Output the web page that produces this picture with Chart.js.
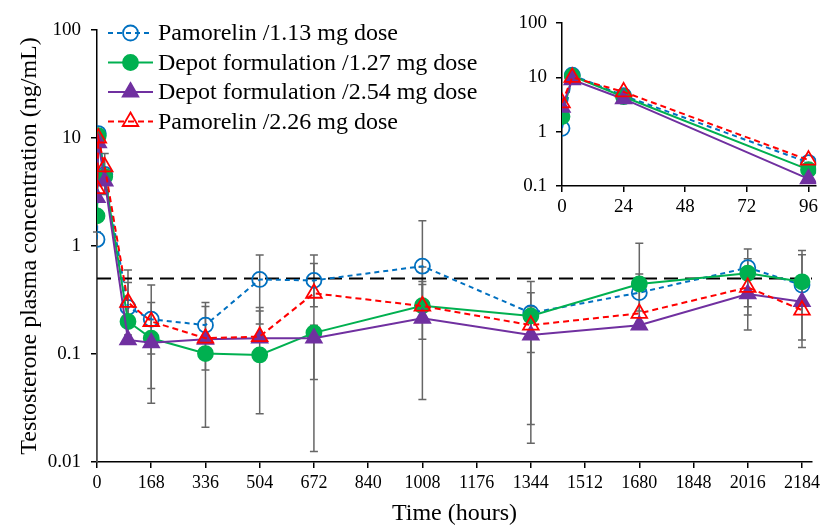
<!DOCTYPE html>
<html>
<head>
<meta charset="utf-8">
<script src="https://cdn.jsdelivr.net/npm/chart.js@4.4.1/dist/chart.umd.min.js"></script>
<style>
  body { margin: 0; background: #fff; }
  #wrap { position: relative; width: 827px; height: 526px; }
  #main { position: absolute; left: 0; top: 0; }
  #inset { position: absolute; left: 505px; top: 0; }
</style>
</head>
<body>
<div id="wrap">
  <canvas id="main" width="827" height="526"></canvas>
  <canvas id="inset" width="322" height="215"></canvas>
</div>
<script>
// sampling times (hours)
const hours = [0, 4, 24, 96, 168, 336, 504, 672, 1008, 1344, 1680, 2016, 2184];

// mean testosterone (ng/mL)
const pam113 = [1.15, 11, 4.6, 0.27, 0.21, 0.185, 0.49, 0.48, 0.65, 0.24, 0.37, 0.63, 0.435];
const dep127 = [1.9, 10.5, 4.4, 0.2, 0.14, 0.101, 0.098, 0.157, 0.28, 0.225, 0.445, 0.56, 0.466];
const dep254 = [2.8, 9, 4, 0.135, 0.127, 0.137, 0.14, 0.14, 0.214, 0.15, 0.185, 0.36, 0.305];
const pam226 = [3.4, 10, 5.4, 0.3, 0.2, 0.14, 0.145, 0.365, 0.278, 0.185, 0.238, 0.414, 0.255];

// error bar ends (null = not visible)
const pam113Lo = [0.005, null, 3.0, 0.15, 0.1, 0.071, 0.19, 0.274, 0.137, 0.103, 0.25, 0.23, 0.115];
const pam113Hi = [1.35, null, 7.2, 0.6, 0.435, 0.30, 0.826, 0.826, 1.71, 0.47, 0.55, 0.94, 0.83];
const dep127Lo = [null, null, null, null, 0.035, 0.021, 0.028, 0.0125, 0.038, 0.0149, 0.2, 0.167, 0.135];
const dep127Hi = [null, null, null, null, null, 0.275, 0.25, null, 0.47, 0.37, 1.06, 0.76, 0.91];
const dep254Lo = [null, null, null, null, null, null, null, 0.058, null, null, null, null, null];
const dep254Hi = [null, null, null, null, null, null, null, null, 0.64, null, null, null, null];
const pam226Lo = [null, null, null, 0.2, 0.048, null, null, 0.185, null, 0.0223, null, 0.274, null];
const pam226Hi = [null, null, null, 0.46, 0.30, null, 0.27, 0.69, 0.44, 0.274, null, null, null];

const loqLevel = 0.5;

const xTicks = [0, 168, 336, 504, 672, 840, 1008, 1176, 1344, 1512, 1680, 1848, 2016, 2184];
const yTicks = [0.01, 0.1, 1, 10, 100];
const insetXTicks = [0, 24, 48, 72, 96];
const insetYTicks = [0.1, 1, 10, 100];
const insetCount = 4; // first four samples (0-96 h)

const labels = ['Pamorelin /1.13 mg dose', 'Depot formulation /1.27 mg dose',
                'Depot formulation /2.54 mg dose', 'Pamorelin /2.26 mg dose'];

const BLUE = '#0070C0', GREEN = '#00B050', PURPLE = '#7030A0', RED = '#FF0000';
const SERIF = "'Liberation Serif', 'Times New Roman', serif";

const styles = [
  { color: BLUE, dash: [5, 4], point: 'circle', fill: 'transparent', radius: 7.5, order: 3 },
  { color: GREEN, dash: [], point: 'circle', fill: GREEN, radius: 7.5, order: 2 },
  { color: PURPLE, dash: [], point: 'triangle', fill: PURPLE, radius: 9, order: 1 },
  { color: RED, dash: [6, 4], point: 'triangle', fill: 'transparent', radius: 9, order: 0 }
];
const series = [pam113, dep127, dep254, pam226];
const errLo = [pam113Lo, dep127Lo, dep254Lo, pam226Lo];
const errHi = [pam113Hi, dep127Hi, dep254Hi, pam226Hi];

function makeSet(i, n) {
  const s = styles[i];
  return {
    label: labels[i],
    data: hours.slice(0, n).map((h, k) => ({ x: h, y: series[i][k] })),
    borderColor: s.color,
    borderWidth: 2,
    borderDash: s.dash,
    pointStyle: s.point,
    pointRadius: s.radius,
    pointBorderColor: s.color,
    pointBackgroundColor: s.fill,
    pointBorderWidth: 1.8,
    order: s.order,
    errLo: errLo[i],
    errHi: errHi[i]
  };
}

const errorBars = {
  id: 'errorBars',
  beforeDatasetsDraw(chart) {
    const { ctx, scales: { x, y } } = chart;
    ctx.save();
    ctx.strokeStyle = '#666';
    ctx.lineWidth = 1.5;
    chart.data.datasets.forEach(ds => {
      if (!ds.errLo) return;
      ds.data.forEach((p, k) => {
        const lo = ds.errLo[k], hi = ds.errHi[k];
        if (lo == null && hi == null) return;
        const px = x.getPixelForValue(p.x);
        const yTop = y.getPixelForValue(hi == null ? p.y : hi);
        const yBot = lo == null ? y.getPixelForValue(p.y)
                   : Math.min(y.getPixelForValue(Math.max(lo, y.min)), chart.chartArea.bottom);
        ctx.beginPath();
        ctx.moveTo(px, yTop); ctx.lineTo(px, yBot);
        if (hi != null) { ctx.moveTo(px - 4, yTop); ctx.lineTo(px + 4, yTop); }
        if (lo != null && lo >= y.min) { ctx.moveTo(px - 4, yBot); ctx.lineTo(px + 4, yBot); }
        ctx.stroke();
      });
    });
    ctx.restore();
  }
};

function marker(ctx, s, cx, cy) {
  ctx.beginPath();
  if (s.point === 'circle') {
    ctx.arc(cx, cy, s.radius, 0, Math.PI * 2);
  } else {
    const r = s.radius;
    for (let a = 0; a < 3; a++) {
      const ang = a * 2 * Math.PI / 3;
      const px = cx + Math.sin(ang) * r, py = cy - Math.cos(ang) * r;
      a === 0 ? ctx.moveTo(px, py) : ctx.lineTo(px, py);
    }
    ctx.closePath();
  }
  ctx.fillStyle = s.fill;
  ctx.fill();
  ctx.lineWidth = 1.8;
  ctx.setLineDash([]);
  ctx.strokeStyle = s.color;
  ctx.stroke();
}

const legendBox = {
  id: 'legendBox',
  afterDraw(chart) {
    const ctx = chart.ctx;
    ctx.save();
    ctx.font = '24px ' + SERIF;
    ctx.textBaseline = 'middle';
    styles.forEach((s, i) => {
      const yy = 33 + i * 29.5;
      ctx.beginPath();
      ctx.setLineDash(s.dash);
      ctx.strokeStyle = s.color;
      ctx.lineWidth = 2;
      ctx.moveTo(108, yy); ctx.lineTo(153, yy);
      ctx.stroke();
      marker(ctx, s, 130.5, yy);
      ctx.fillStyle = '#000';
      ctx.fillText(labels[i], 158, yy + 1);
    });
    ctx.restore();
  }
};

function axisOpts(extra) {
  return Object.assign({
    grid: { display: true, drawOnChartArea: false, drawTicks: true, tickLength: 6, color: '#000', lineWidth: 1.5 },
    border: { display: true, color: '#000', width: 1.5 }
  }, extra);
}

new Chart(document.getElementById('main'), {
  type: 'line',
  data: {
    datasets: [
      makeSet(0, hours.length), makeSet(1, hours.length), makeSet(2, hours.length), makeSet(3, hours.length),
      {
        label: 'LOQ',
        data: [{ x: 0, y: loqLevel }, { x: 2215, y: loqLevel }],
        borderColor: '#000', borderWidth: 2, borderDash: [14, 7], pointRadius: 0, order: 5
      }
    ]
  },
  options: {
    responsive: false,
    animation: false,
    events: [],
    layout: { padding: { top: 30, right: 15, left: 0, bottom: 0 } },
    plugins: { legend: { display: false }, tooltip: { enabled: false } },
    scales: {
      x: axisOpts({
        type: 'linear', min: 0, max: 2215,
        afterBuildTicks: sc => { sc.ticks = xTicks.map(v => ({ value: v })); },
        afterFit: sc => { sc.height = 64; },
        ticks: { font: { family: SERIF, size: 18 }, color: '#000', padding: 4, maxRotation: 0, autoSkip: false, callback: v => String(v) },
        title: { display: true, text: 'Time (hours)', font: { family: SERIF, size: 24, lineHeight: 1 }, color: '#000', padding: { bottom: 0 } }
      }),
      y: axisOpts({
        type: 'logarithmic', min: 0.01, max: 100,
        afterBuildTicks: sc => { sc.ticks = yTicks.map(v => ({ value: v })); },
        afterFit: sc => { sc.width = 97; },
        ticks: { font: { family: SERIF, size: 19 }, color: '#000', padding: 10, autoSkip: false, callback: v => String(v) },
        title: { display: true, text: 'Testosterone plasma concentration (ng/mL)', font: { family: SERIF, size: 24, lineHeight: 1 }, color: '#000', padding: { top: 18 } }
      })
    }
  },
  plugins: [errorBars, legendBox]
});

new Chart(document.getElementById('inset'), {
  type: 'line',
  data: {
    datasets: [0, 1, 2, 3].map(i => {
      const d = makeSet(i, insetCount);
      delete d.errLo; delete d.errHi;
      return d;
    })
  },
  options: {
    responsive: false,
    animation: false,
    events: [],
    layout: { padding: { top: 23, right: 4, left: 0, bottom: 0 } },
    plugins: { legend: { display: false }, tooltip: { enabled: false } },
    scales: {
      x: axisOpts({
        type: 'linear', min: 0, max: 99,
        afterBuildTicks: sc => { sc.ticks = insetXTicks.map(v => ({ value: v })); },
        afterFit: sc => { sc.height = 29; },
        ticks: { font: { family: SERIF, size: 19 }, color: '#000', padding: 4, maxRotation: 0, autoSkip: false, callback: v => String(v) }
      }),
      y: axisOpts({
        type: 'logarithmic', min: 0.1, max: 100,
        afterBuildTicks: sc => { sc.ticks = insetYTicks.map(v => ({ value: v })); },
        afterFit: sc => { sc.width = 57; },
        ticks: { font: { family: SERIF, size: 19 }, color: '#000', padding: 9, autoSkip: false, callback: v => String(v) }
      })
    }
  }
});
</script>
</body>
</html>
